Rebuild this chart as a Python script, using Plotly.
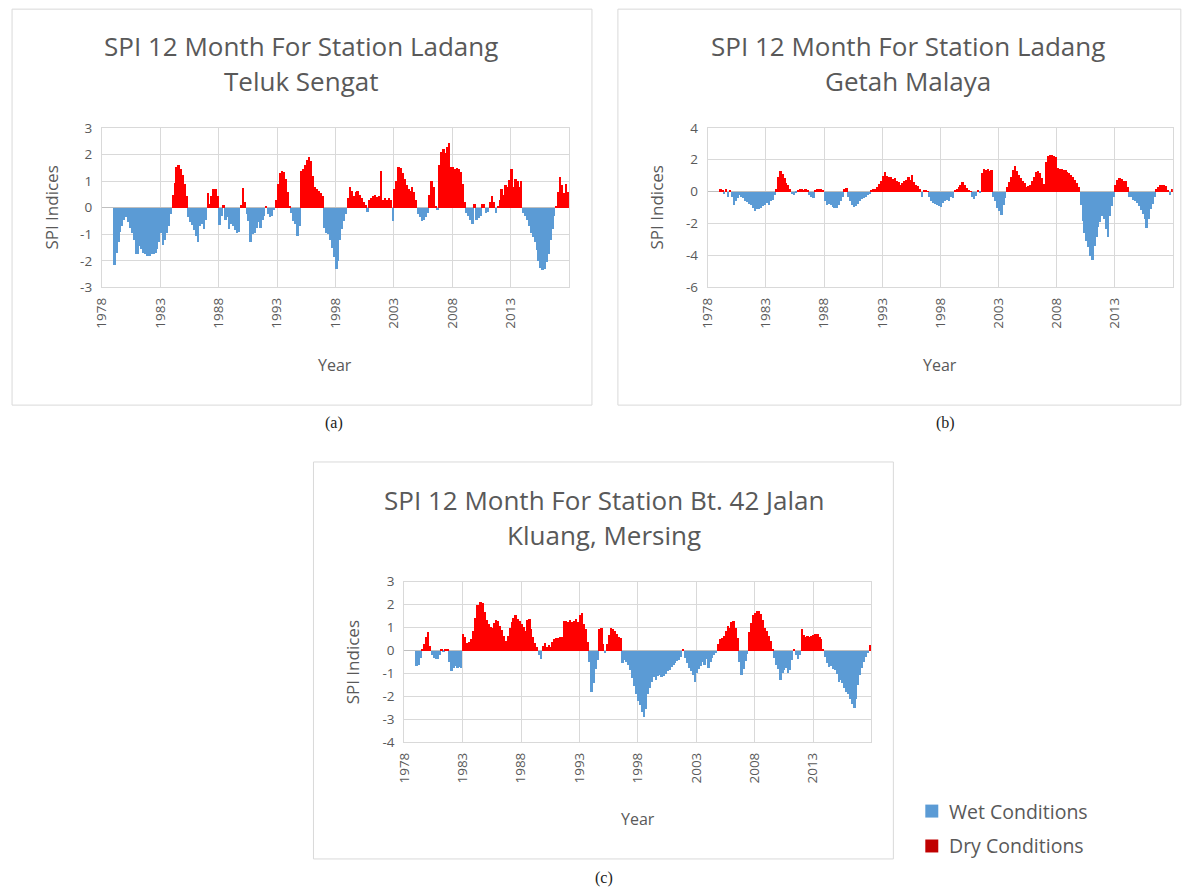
import plotly.graph_objects as go

W, H = 1192, 890

# ---------------- data (SPI-12, two-month steps, Jan 1979 - Dec 2017) ----------------
start_year = 1979
steps_per_year = 6
tick_years = [1978, 1983, 1988, 1993, 1998, 2003, 2008, 2013]

spi_teluk_sengat = [
    -2.15, -1.7, -1.3, -0.9, -0.7, -0.45,    # 1979
    -0.35, -0.55, -0.75, -0.95, -1.2, -1.75,  # 1980
    -1.75, -1.45, -1.55, -1.7, -1.75, -1.8,   # 1981
    -1.8, -1.75, -1.75, -1.7, -1.55, -1.3,    # 1982
    -0.95, -1.4, -1.2, -0.95, -0.7, -0.25,    # 1983
    0.5, 0.95, 1.55, 1.6, 1.45, 1.25,         # 1984
    0.9, 0.45, -0.35, -0.55, -0.65, -0.85,    # 1985
    -1.05, -1.3, -0.7, -0.6, -0.8, -0.45,     # 1986
    0.55, 0.15, 0.45, 0.7, 0.7, 0.45,         # 1987
    -0.65, -0.3, 0.1, -0.45, -0.35, -0.8,     # 1988
    -0.6, -0.7, -0.85, -0.95, -0.9, 0.1,      # 1989
    0.75, 0.2, -0.25, -0.5, -1.3, -1.0,       # 1990
    -0.95, -0.75, -0.55, -0.75, -0.45, -0.3,  # 1991
    0.05, -0.25, -0.35, -0.3, -0.1, 0.3,      # 1992
    0.9, 1.3, 1.4, 1.35, 1.1, 0.6,            # 1993
    0.05, -0.2, -0.5, -0.6, -1.05, -0.7,      # 1994
    1.4, 1.45, 1.6, 1.8, 1.9, 1.75,           # 1995
    1.2, 0.8, 0.7, 0.65, 0.55, 0.45,          # 1996
    -0.75, -0.95, -1.0, -1.2, -1.5, -1.85,    # 1997
    -2.3, -2.0, -1.2, -0.8, -0.5, -0.25,      # 1998
    0.35, 0.8, 0.65, 0.45, 0.6, 0.65,         # 1999
    0.5, 0.35, 0.2, 0.1, -0.15, 0.3,          # 2000
    0.35, 0.45, 0.5, 0.4, 0.45, 1.4,          # 2001
    0.3, 0.35, 0.3, 0.35, 0.3, -0.5,          # 2002
    0.7, 1.0, 1.55, 1.5, 1.3, 1.1,            # 2003
    0.85, 0.7, 0.65, 0.8, 0.6, 0.3,           # 2004
    -0.25, -0.35, -0.5, -0.45, -0.35, -0.2,   # 2005
    0.5, 1.0, 0.8, 0.05, -0.1, 1.6,           # 2006
    2.1, 2.2, 2.05, 2.3, 2.45, 1.55,          # 2007
    1.55, 1.45, 1.5, 1.45, 1.35, 0.9,         # 2008
    0.2, -0.2, -0.3, -0.45, -0.6, 0.15,       # 2009
    -0.45, -0.4, -0.3, 0.15, 0.15, -0.2,      # 2010
    -0.15, 0.2, 0.45, 0.2, -0.2, 0.05,        # 2011
    0.3, 0.7, 0.5, 0.85, 0.8, 1.05,           # 2012
    1.45, 0.8, 1.1, 1.0, 0.8, 1.0,            # 2013
    -0.2, -0.3, -0.45, -0.7, -0.95, -1.1,     # 2014
    -1.3, -1.6, -2.0, -2.25, -2.35, -2.3,     # 2015
    -2.05, -1.75, -1.2, -0.8, -0.3, 0.05,     # 2016
    0.6, 1.15, 0.85, 0.55, 0.9, 0.6,          # 2017
]

spi_getah_malaya = [
    0.15, 0.1, -0.15, 0.15, -0.3, 0.1,        # 1979
    -0.35, -0.8, -0.55, -0.4, -0.2, -0.3,     # 1980
    -0.4, -0.55, -0.65, -0.75, -0.85, -1.0,   # 1981
    -1.2, -1.1, -1.05, -1.0, -0.9, -0.85,     # 1982
    -0.7, -0.8, -0.6, -0.5, -0.2, 0.2,        # 1983
    0.9, 1.3, 1.1, 0.85, 0.55, 0.45,          # 1984
    0.2, -0.15, -0.2, -0.1, 0.1, 0.15,        # 1985
    0.15, 0.1, 0.15, 0.1, -0.2, -0.3,         # 1986
    -0.4, 0.1, 0.15, 0.2, 0.15, 0.1,          # 1987
    -0.6, -0.8, -0.75, -0.85, -0.95, -1.0,    # 1988
    -1.0, -0.85, -0.6, -0.35, 0.15, 0.25,     # 1989
    -0.3, -0.55, -0.8, -0.95, -0.9, -0.75,    # 1990
    -0.6, -0.45, -0.4, -0.3, -0.2, -0.15,     # 1991
    0.1, 0.15, 0.2, 0.3, 0.5, 0.7,            # 1992
    1.0, 1.25, 1.0, 0.95, 0.9, 0.8,           # 1993
    0.85, 0.7, 0.6, 0.45, 0.55, 0.7,          # 1994
    0.75, 0.95, 0.75, 1.05, 0.6, 0.45,        # 1995
    0.35, 0.15, -0.3, 0.1, 0.1, 0.05,         # 1996
    -0.3, -0.55, -0.7, -0.75, -0.85, -0.9,    # 1997
    -0.95, -0.7, -0.55, -0.5, -0.55, -0.35,   # 1998
    -0.4, 0.1, 0.2, 0.3, 0.45, 0.6,           # 1999
    0.4, 0.25, 0.1, 0.05, -0.35, -0.45,       # 2000
    -0.25, 0.1, -0.1, 1.2, 1.4, 1.35,         # 2001
    1.4, 1.3, 1.35, -0.3, -0.6, -1.0,         # 2002
    -1.2, -1.45, -0.8, -0.4, 0.3, 0.6,        # 2003
    0.9, 1.35, 1.65, 1.3, 1.05, 0.85,         # 2004
    0.7, 0.55, 0.3, 0.35, 0.45, 0.7,          # 2005
    0.9, 1.25, 1.3, 1.15, 0.85, 0.5,          # 2006
    1.9, 2.25, 2.3, 2.3, 2.25, 2.2,           # 2007
    1.5, 1.45, 1.4, 1.35, 1.35, 1.25,         # 2008
    1.15, 1.05, 0.9, 0.75, 0.55, 0.3,         # 2009
    -0.8, -1.8, -2.6, -3.1, -3.45, -4.0,      # 2010
    -4.3, -3.4, -2.8, -2.2, -1.9, -1.5,       # 2011
    -1.7, -2.3, -2.8, -1.5, -0.9, -0.35,      # 2012
    0.45, 0.75, 0.85, 0.8, 0.7, 0.65,         # 2013
    0.3, -0.3, -0.35, -0.5, -0.6, -0.7,       # 2014
    -0.9, -1.15, -1.4, -1.7, -2.25, -1.7,     # 2015
    -1.1, -0.75, -0.35, 0.15, 0.3, 0.4,       # 2016
    0.4, 0.4, 0.35, 0.1, -0.2, 0.2,           # 2017
]

spi_kluang_mersing = [
    -0.65, -0.6, -0.3, 0.1, 0.3, 0.6,         # 1979
    0.8, 0.2, -0.2, -0.3, -0.35, -0.35,       # 1980
    -0.2, 0.1, -0.05, 0.1, 0.05, -0.5,        # 1981
    -0.9, -0.75, -0.65, -0.75, -0.7, -0.75,   # 1982
    0.75, 0.6, 0.35, 0.4, 0.5, 0.85,          # 1983
    1.45, 2.0, 2.0, 2.15, 2.1, 1.7,           # 1984
    1.35, 1.15, 1.05, 1.0, 1.2, 1.35,         # 1985
    1.3, 1.1, 0.9, 0.65, 0.45, 0.65,          # 1986
    1.0, 1.25, 1.45, 1.55, 1.4, 1.3,          # 1987
    1.15, 1.05, 0.85, 1.35, 1.4, 0.95,        # 1988
    0.6, 0.35, 0.15, -0.2, -0.35, 0.2,        # 1989
    0.35, 0.15, 0.25, 0.15, 0.4, 0.5,         # 1990
    0.55, 0.55, 0.6, 0.6, 1.3, 1.3,           # 1991
    1.25, 1.35, 1.25, 1.3, 1.4, 1.25,         # 1992
    1.55, 1.65, 1.15, 0.95, 0.4, -0.5,        # 1993
    -1.8, -1.4, -0.8, -0.4, 0.95, 1.0,        # 1994
    0.3, -0.1, 0.3, 0.7, 1.0, 0.95,           # 1995
    0.85, 0.75, 0.6, 0.55, -0.55, -0.4,       # 1996
    -0.5, -0.6, -0.85, -1.2, -1.55, -1.9,     # 1997
    -2.2, -2.35, -2.65, -2.9, -2.55, -1.9,    # 1998
    -1.6, -1.35, -1.15, -1.25, -1.1, -1.05,   # 1999
    -1.15, -1.1, -1.0, -0.9, -0.85, -0.7,     # 2000
    -0.6, -0.55, -0.45, -0.4, -0.25, 0.1,     # 2001
    -0.3, -0.55, -0.75, -0.9, -1.05, -1.35,   # 2002
    -0.95, -0.8, -0.65, -0.5, -0.6, -0.35,    # 2003
    -0.75, -0.5, -0.3, -0.2, -0.1, 0.3,       # 2004
    0.5, 0.55, 0.65, 0.85, 1.1, 1.0,          # 2005
    1.25, 1.3, 1.0, 0.55, -0.5, -1.05,        # 2006
    -0.8, -0.45, -0.15, 0.8, 1.2, 1.55,       # 2007
    1.65, 1.75, 1.75, 1.6, 1.35, 1.0,         # 2008
    0.85, 0.65, 0.45, 0.1, -0.3, -0.6,        # 2009
    -0.8, -1.25, -0.95, -0.85, -0.75, -0.95,  # 2010
    -0.85, -0.4, 0.1, -0.2, -0.35, -0.2,      # 2011
    0.95, 0.7, 0.6, 0.65, 0.6, 0.65,          # 2012
    0.7, 0.75, 0.75, 0.6, 0.5, 0.1,           # 2013
    -0.25, -0.55, -0.7, -0.65, -0.8, -0.85,   # 2014
    -1.0, -1.35, -1.25, -1.4, -1.6, -1.8,     # 2015
    -1.9, -2.1, -2.3, -2.5, -2.1, -1.5,       # 2016
    -1.05, -0.75, -0.5, -0.25, -0.1, 0.25,    # 2017
]

legend_labels = ["Wet Conditions", "Dry Conditions"]
wet_color = "#5B9BD5"
dry_color = "#FF0000"
dry_legend_color = "#C00000"

FONT = "Open Sans"
GREY = "#595959"
GRID = "#D9D9D9"

panels = [
    dict(values=spi_teluk_sengat,
         title=["SPI 12 Month For Station Ladang", "Teluk Sengat"],
         title_x=300, yrange=[-3, 3], dtick=1,
         plot=(100, 568, 127, 287), box=(10, 591, 8, 405),
         ytitle_x=50, xtitle_y=365, label="(a)", label_xy=(333, 423)),
    dict(values=spi_getah_malaya,
         title=["SPI 12 Month For Station Ladang", "Getah Malaya"],
         title_x=908, yrange=[-6, 4], dtick=2,
         plot=(707, 1173, 127, 287), box=(617, 1181, 8, 405),
         ytitle_x=656, xtitle_y=365, label="(b)", label_xy=(945, 423)),
    dict(values=spi_kluang_mersing,
         title=["SPI 12 Month For Station Bt. 42 Jalan", "Kluang, Mersing"],
         title_x=603, yrange=[-4, 3], dtick=1,
         plot=(403, 871, 582, 743), box=(312, 893, 462, 860),
         ytitle_x=352, xtitle_y=820, label="(c)", label_xy=(603, 879)),
]

# the photographed page maps figure pixels with a small offset / scale; compensate
SX, SY, OX, OY = 0.9935, 0.9823, 8.0, 8.0


def fx(p):
    return min(max((p / SX - OX) / W, 0.0), 1.0)


def fy(p):
    return min(max(1 - (p / SY - OY) / H, 0.0), 1.0)


fig = go.Figure()
annotations = []
shapes = []

for i, pn in enumerate(panels):
    sfx = "" if i == 0 else str(i + 1)
    vals = pn["values"]
    xs = [start_year + (k + 0.5) / steps_per_year for k in range(len(vals))]
    wet = [v if v < 0 else None for v in vals]
    dry = [v if v > 0 else None for v in vals]
    for ys, col, nm in [(wet, wet_color, legend_labels[0]), (dry, dry_color, legend_labels[1])]:
        fig.add_trace(go.Bar(x=xs, y=ys, width=1 / steps_per_year, name=nm,
                             marker=dict(color=col, line=dict(width=0)),
                             showlegend=False, xaxis="x" + sfx, yaxis="y" + sfx))
    x0, x1, y0, y1 = pn["plot"]
    axis_font = dict(family=FONT, size=13.5, color=GREY)
    lo, hi = pn["yrange"]
    yt = list(range(lo, hi + 1, pn["dtick"]))
    fig.update_layout(**{
        "xaxis" + sfx: dict(domain=[fx(x0), fx(x1)], anchor="y" + sfx,
                            range=[1978, 2018], tickmode="array",
                            tickvals=tick_years, ticktext=[str(t) for t in tick_years],
                            tickangle=-90, tickfont=axis_font, showgrid=True,
                            gridcolor=GRID, gridwidth=1, showline=True,
                            linecolor=GRID, mirror=True, zeroline=False, ticks="",
                            ticklabelstandoff=4),
        "yaxis" + sfx: dict(domain=[fy(y1), fy(y0)], anchor="x" + sfx,
                            range=pn["yrange"], tickmode="array", tickvals=yt,
                            ticktext=[str(v) for v in yt], tickfont=axis_font,
                            showgrid=True, gridcolor=GRID, gridwidth=1,
                            showline=True, linecolor=GRID, mirror=True,
                            zeroline=True, zerolinecolor="#BFBFBF", zerolinewidth=1,
                            ticks="", ticklabelstandoff=6),
    })
    bx0, bx1, by0, by1 = pn["box"]
    shapes.append(dict(type="rect", xref="paper", yref="paper",
                       x0=fx(bx0), x1=fx(bx1), y0=fy(by1), y1=fy(by0),
                       line=dict(color=GRID, width=1), fillcolor="rgba(0,0,0,0)",
                       layer="below"))
    ty = [45, 80] if i < 2 else [500, 535]
    for line, yy in zip(pn["title"], ty):
        annotations.append(dict(text=line, x=fx(pn["title_x"]), y=fy(yy),
                                xref="paper", yref="paper", showarrow=False,
                                xanchor="center", yanchor="middle",
                                font=dict(family=FONT, size=26, color=GREY)))
    annotations.append(dict(text="SPI Indices", x=fx(pn["ytitle_x"]),
                            y=fy((y0 + y1) / 2), xref="paper", yref="paper",
                            showarrow=False, textangle=-90, xanchor="center",
                            yanchor="middle",
                            font=dict(family=FONT, size=17, color=GREY)))
    annotations.append(dict(text="Year", x=fx((x0 + x1) / 2), y=fy(pn["xtitle_y"]),
                            xref="paper", yref="paper", showarrow=False,
                            xanchor="center", yanchor="middle",
                            font=dict(family=FONT, size=16, color=GREY)))
    annotations.append(dict(text=pn["label"], x=fx(pn["label_xy"][0]),
                            y=fy(pn["label_xy"][1]), xref="paper", yref="paper",
                            showarrow=False, xanchor="center", yanchor="middle",
                            font=dict(family="Liberation Serif", size=16, color="#222222")))

# legend (drawn as swatches + text)
for lbl, col, cy in [(legend_labels[0], wet_color, 812), (legend_labels[1], dry_legend_color, 847)]:
    shapes.append(dict(type="rect", xref="paper", yref="paper",
                       x0=fx(925), x1=fx(938), y0=fy(cy + 6.5), y1=fy(cy - 6.5),
                       line=dict(width=0), fillcolor=col))
    annotations.append(dict(text=lbl, x=fx(947), y=fy(cy), xref="paper", yref="paper",
                            showarrow=False, xanchor="left", yanchor="middle",
                            font=dict(family=FONT, size=19.5, color=GREY)))

fig.update_layout(width=W, height=H, margin=dict(l=0, r=0, t=0, b=0),
                  paper_bgcolor="white", plot_bgcolor="white",
                  barmode="overlay", bargap=0, showlegend=False,
                  annotations=annotations, shapes=shapes)

fig.write_html("out.html", config={"displayModeBar": False},
               post_script="document.body.style.margin='0';"
                           "document.body.style.padding='0';"
                           "document.documentElement.style.overflow='hidden';")
